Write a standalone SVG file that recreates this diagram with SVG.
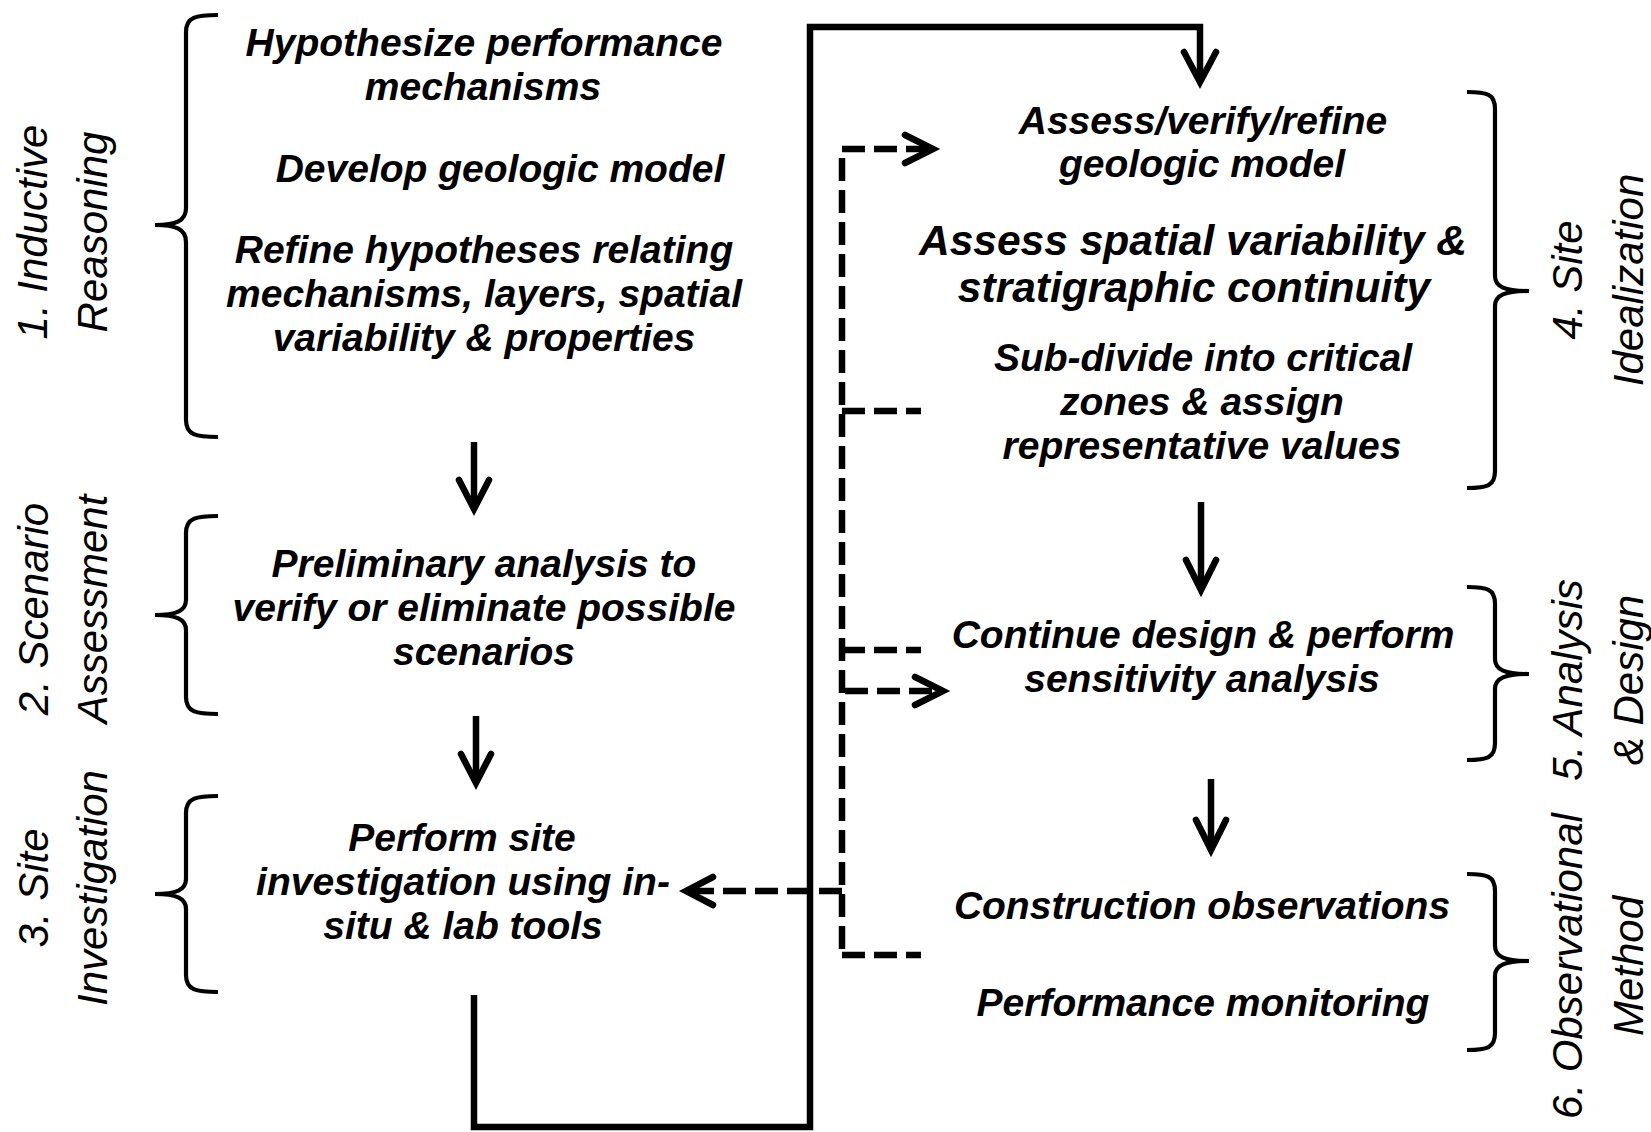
<svg xmlns="http://www.w3.org/2000/svg" width="1651" height="1132" viewBox="0 0 1651 1132">
<defs>
<style>
.t{font-family:"Liberation Sans",Arial,sans-serif;font-weight:bold;font-style:italic;font-size:39px;text-anchor:middle;fill:#000}
.big{font-size:42.5px}
.lab{font-family:"Liberation Sans",Arial,sans-serif;font-style:italic;font-size:42px;text-anchor:middle;fill:#000}
.br{fill:none;stroke:#000;stroke-width:4.2}
.solid{fill:none;stroke:#000;stroke-width:6.5}
.dash{fill:none;stroke:#000;stroke-width:6.5;stroke-dasharray:23 9}
.head{fill:none;stroke:#000;stroke-width:6.5;stroke-linecap:round;stroke-linejoin:miter}
</style>
</defs>
<rect width="1651" height="1132" fill="#fff"/>

<g id="connectors">
<path class="solid" d="M474 442 V506"/>
<path class="head" d="M459 480 L474 509 L489 480"/>
<path class="solid" d="M476 716 V780"/>
<path class="head" d="M461 754 L476 783 L491 754"/>
<path class="solid" d="M474 995 V1127 H810 V27 H1200 V80"/>
<path class="head" d="M1184 52 L1200 82 L1216 52"/>
<path class="solid" d="M1201 502 V588"/>
<path class="head" d="M1186 560 L1201 590 L1216 560"/>
<path class="solid" d="M1211 779 V848"/>
<path class="head" d="M1196 820 L1211 850 L1226 820"/>
<path class="dash" d="M842 949 V149"/>
<path class="dash" d="M842 149 H930"/>
<path class="head" d="M905 135 L933 149 L905 163"/>
<path class="dash" d="M842 411 H921"/>
<path class="dash" d="M842 650 H921"/>
<path class="dash" d="M845 691 H940"/>
<path class="head" d="M915 677 L943 691 L915 705"/>
<path class="dash" d="M842 955 H921"/>
<path class="dash" d="M842 891 H690"/>
<path class="head" d="M713 877 L686 891 L713 905"/>
</g>

<g id="bracket1"><path class="br" d="M218 15 C196 15 186 17 186 32 V208 C186 221 176 225 155 225 C176 225 186 229 186 242 V420 C186 435 196 437 218 437"/></g>
<g id="bracket2"><path class="br" d="M218 516 C196 516 186 518 186 533 V600 C186 611 176 615 155 615 C176 615 186 619 186 630 V697 C186 712 196 714 218 714"/></g>
<g id="bracket3"><path class="br" d="M218 796 C196 796 186 798 186 813 V879 C186 890 176 894 155 894 C176 894 186 898 186 909 V975 C186 990 196 992 218 992"/></g>
<g id="bracket4"><path class="br" d="M1467 92 C1487 92 1495 94 1495 109 V276 C1495 287 1505 291 1529 291 C1505 291 1495 295 1495 306 V471 C1495 486 1487 488 1467 488"/></g>
<g id="bracket5"><path class="br" d="M1467 587 C1487 587 1495 589 1495 604 V659 C1495 670 1505 674 1529 674 C1505 674 1495 678 1495 689 V743 C1495 758 1487 760 1467 760"/></g>
<g id="bracket6"><path class="br" d="M1467 874 C1487 874 1495 876 1495 891 V946 C1495 957 1505 961 1529 961 C1505 961 1495 965 1495 976 V1033 C1495 1048 1487 1050 1467 1050"/></g>

<g id="label1"><text class="lab" transform="translate(47 232) rotate(-90)">1. Inductive</text><text class="lab" transform="translate(107 232) rotate(-90)">Reasoning</text></g>
<g id="label2"><text class="lab" transform="translate(48 609) rotate(-90)">2. Scenario</text><text class="lab" transform="translate(107 609) rotate(-90)">Assessment</text></g>
<g id="label3"><text class="lab" transform="translate(48 888) rotate(-90)">3. Site</text><text class="lab" transform="translate(107 888) rotate(-90)">Investigation</text></g>
<g id="label4"><text class="lab" transform="translate(1582 280) rotate(-90)">4. Site</text><text class="lab" transform="translate(1643 280) rotate(-90)">Idealization</text></g>
<g id="label5"><text class="lab" transform="translate(1582 680) rotate(-90)">5. Analysis</text><text class="lab" transform="translate(1643 680) rotate(-90)">&amp; Design</text></g>
<g id="label6"><text class="lab" transform="translate(1582 966) rotate(-90)">6. Observational</text><text class="lab" transform="translate(1643 966) rotate(-90)">Method</text></g>

<g id="node-hypothesize"><text class="t" x="484" y="56">Hypothesize performance</text><text class="t" x="483" y="100">mechanisms</text></g>
<g id="node-develop"><text class="t" x="500" y="182">Develop geologic model</text></g>
<g id="node-refine"><text class="t" x="484" y="263">Refine hypotheses relating</text><text class="t" x="484" y="307">mechanisms, layers, spatial</text><text class="t" x="484" y="351">variability &amp; properties</text></g>
<g id="node-preliminary"><text class="t" x="484" y="577">Preliminary analysis to</text><text class="t" x="484" y="621">verify or eliminate possible</text><text class="t" x="484" y="665">scenarios</text></g>
<g id="node-perform"><text class="t" x="462" y="851">Perform site</text><text class="t" x="463" y="895">investigation using in-</text><text class="t" x="463" y="939">situ &amp; lab tools</text></g>
<g id="node-assess"><text class="t" x="1203" y="134">Assess/verify/refine</text><text class="t" x="1202" y="177">geologic model</text></g>
<g id="node-spatial"><text class="t big" x="1193" y="255">Assess spatial variability &amp;</text><text class="t big" x="1194" y="302">stratigraphic continuity</text></g>
<g id="node-subdivide"><text class="t" x="1203" y="371">Sub-divide into critical</text><text class="t" x="1202" y="415">zones &amp; assign</text><text class="t" x="1202" y="459">representative values</text></g>
<g id="node-continue"><text class="t" x="1203" y="648">Continue design &amp; perform</text><text class="t" x="1202" y="692">sensitivity analysis</text></g>
<g id="node-construction"><text class="t" x="1202" y="919">Construction observations</text></g>
<g id="node-monitoring"><text class="t" x="1203" y="1016">Performance monitoring</text></g>
</svg>
